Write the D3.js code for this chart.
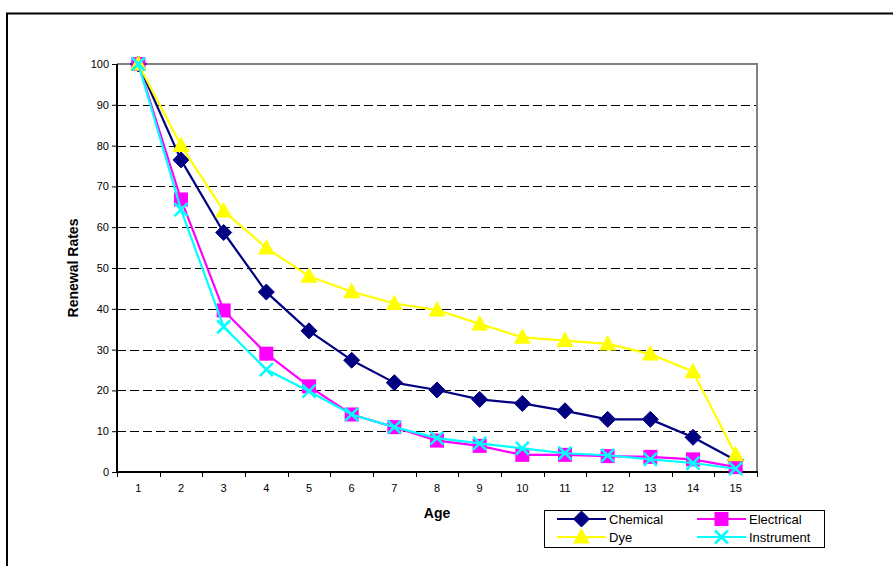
<!DOCTYPE html>
<html>
<head>
<meta charset="utf-8">
<script src="https://cdn.jsdelivr.net/npm/d3@7"></script>
<style>
  html, body { margin: 0; padding: 0; background: #fff; }
  svg { display: block; font-family: "Liberation Sans", Arial, sans-serif; }
</style>
</head>
<body>
<svg id="chart" width="893" height="566"></svg>
<script>
// Renewal rates by age for four industries
const ages = [1, 2, 3, 4, 5, 6, 7, 8, 9, 10, 11, 12, 13, 14, 15];
const chemical   = [100, 76.5, 58.7, 44.1, 34.6, 27.4, 21.9, 20.1, 17.8, 16.8, 15.0, 12.9, 12.9, 8.5, 2.9];
const electrical = [100, 66.8, 39.6, 29.0, 21.0, 14.1, 11.0, 7.7, 6.4, 4.2, 4.2, 3.9, 3.7, 3.1, 1.2];
const dye        = [100, 80.0, 64.0, 54.9, 48.0, 44.2, 41.3, 39.7, 36.3, 33.0, 32.2, 31.4, 28.9, 24.6, 4.2];
const instrument = [100, 64.3, 35.6, 25.1, 19.8, 14.1, 11.0, 8.3, 7.0, 5.8, 4.6, 4.1, 3.1, 2.2, 0.8];
const yTicks = [0, 10, 20, 30, 40, 50, 60, 70, 80, 90, 100];

const series = [
  { name: "Chemical",   values: chemical,   color: "#000080", marker: "diamond" },
  { name: "Electrical", values: electrical, color: "#FF00FF", marker: "square" },
  { name: "Dye",        values: dye,        color: "#FFFF00", marker: "triangle" },
  { name: "Instrument", values: instrument, color: "#00FFFF", marker: "cross" }
];

const svg = d3.select("#chart");
const plot = { left: 117, right: 757, top: 64, bottom: 472 };

// Outer chart frame (runs off the right and bottom edges)
svg.append("rect")
  .attr("x", 7).attr("y", 13.5).attr("width", 1000).attr("height", 700)
  .attr("fill", "#fff").attr("stroke", "#000").attr("stroke-width", 2);

const x = d3.scaleBand().domain(ages).range([plot.left, plot.right]).paddingInner(0).paddingOuter(0);
const y = d3.scaleLinear().domain([0, 100]).range([plot.bottom, plot.top]);
const cx = d => x(d) + x.bandwidth() / 2;

// Plot background
svg.append("rect")
  .attr("x", plot.left).attr("y", plot.top)
  .attr("width", plot.right - plot.left).attr("height", plot.bottom - plot.top)
  .attr("fill", "#fff");

// Dashed horizontal gridlines
svg.append("g")
  .selectAll("line")
  .data(yTicks.filter(v => v > 0 && v < 100))
  .join("line")
  .attr("x1", plot.left).attr("x2", plot.right)
  .attr("y1", d => Math.round(y(d)) + 0.5).attr("y2", d => Math.round(y(d)) + 0.5)
  .attr("stroke", "#000").attr("stroke-width", 1)
  .attr("stroke-dasharray", "9,4");

// Top and right plot border
svg.append("path")
  .attr("d", `M${plot.left},${plot.top} H${plot.right} V${plot.bottom}`)
  .attr("fill", "none").attr("stroke", "#808080").attr("stroke-width", 2);

// Y axis
const yAxis = svg.append("g")
  .attr("transform", `translate(${plot.left},0)`)
  .call(d3.axisLeft(y).tickValues(yTicks).tickSize(5).tickPadding(3));
yAxis.select(".domain").attr("stroke", "#000").attr("stroke-width", 2)
  .attr("d", `M0,${plot.top}V${plot.bottom}`);
yAxis.selectAll(".tick line").attr("stroke", "#000").attr("stroke-width", 1);
yAxis.selectAll(".tick text").attr("font-size", 11).attr("fill", "#000")
  .attr("font-family", "Liberation Sans, Arial, sans-serif");

// X axis: labels centred in each category, ticks at category boundaries
const xAxis = svg.append("g")
  .attr("transform", `translate(0,${plot.bottom})`)
  .call(d3.axisBottom(x).tickSize(0).tickPadding(12));
xAxis.select(".domain").remove();
xAxis.selectAll(".tick text").attr("font-size", 11).attr("fill", "#000")
  .attr("font-family", "Liberation Sans, Arial, sans-serif");
const bounds = ages.map(a => x(a)).concat([plot.right]);
svg.append("g").selectAll("line").data(bounds).join("line")
  .attr("x1", d => Math.round(d) + 0.5).attr("x2", d => Math.round(d) + 0.5)
  .attr("y1", plot.bottom).attr("y2", plot.bottom + 5)
  .attr("stroke", "#000").attr("stroke-width", 1);
svg.append("line")
  .attr("x1", plot.left - 1).attr("x2", plot.right + 1)
  .attr("y1", plot.bottom).attr("y2", plot.bottom)
  .attr("stroke", "#000").attr("stroke-width", 2);

// Axis titles
svg.append("text")
  .attr("x", (plot.left + plot.right) / 2).attr("y", 518)
  .attr("text-anchor", "middle").attr("font-size", 14).attr("font-weight", "bold")
  .text("Age");
svg.append("text")
  .attr("transform", `translate(78,${(plot.top + plot.bottom) / 2}) rotate(-90)`)
  .attr("text-anchor", "middle").attr("font-size", 14).attr("font-weight", "bold")
  .text("Renewal Rates");

// Marker shapes
function drawMarker(g, type, color, px, py) {
  if (type === "diamond") {
    g.append("path").attr("d", `M${px},${py - 8}L${px + 8},${py}L${px},${py + 8}L${px - 8},${py}Z`)
      .attr("fill", color).attr("stroke", color).attr("stroke-width", 1);
  } else if (type === "square") {
    g.append("rect").attr("x", px - 7).attr("y", py - 7).attr("width", 14).attr("height", 14)
      .attr("fill", color);
  } else if (type === "triangle") {
    g.append("path").attr("d", `M${px},${py - 9}L${px + 8.5},${py + 6.5}L${px - 8.5},${py + 6.5}Z`)
      .attr("fill", color);
  } else {
    g.append("path").attr("d", `M${px - 6.5},${py - 6.5}L${px + 6.5},${py + 6.5}M${px - 6.5},${py + 6.5}L${px + 6.5},${py - 6.5}`)
      .attr("stroke", color).attr("stroke-width", 2.5).attr("fill", "none");
  }
}

const line = d3.line().x((d, i) => cx(ages[i])).y(d => y(d));

series.forEach(s => {
  const g = svg.append("g");
  g.append("path").datum(s.values).attr("d", line)
    .attr("fill", "none").attr("stroke", s.color).attr("stroke-width", 2.2)
    .attr("stroke-linejoin", "round");
  s.values.forEach((v, i) => drawMarker(g, s.marker, s.color, cx(ages[i]), y(v)));
});

// Legend
const lg = svg.append("g");
lg.append("rect").attr("x", 544.5).attr("y", 510.5).attr("width", 280).attr("height", 37)
  .attr("fill", "#fff").attr("stroke", "#000").attr("stroke-width", 1);
const legendPos = [
  { x: 557, y: 519 }, { x: 697, y: 519 },
  { x: 557, y: 537 }, { x: 697, y: 537 }
];
series.forEach((s, i) => {
  const p = legendPos[i];
  lg.append("line").attr("x1", p.x).attr("x2", p.x + 49).attr("y1", p.y).attr("y2", p.y)
    .attr("stroke", s.color).attr("stroke-width", 2.2);
  drawMarker(lg, s.marker, s.color, p.x + 24.5, p.y);
  lg.append("text").attr("x", p.x + 52).attr("y", p.y).attr("dy", "0.36em")
    .attr("font-size", 13).attr("fill", "#000").text(s.name);
});
</script>
</body>
</html>
